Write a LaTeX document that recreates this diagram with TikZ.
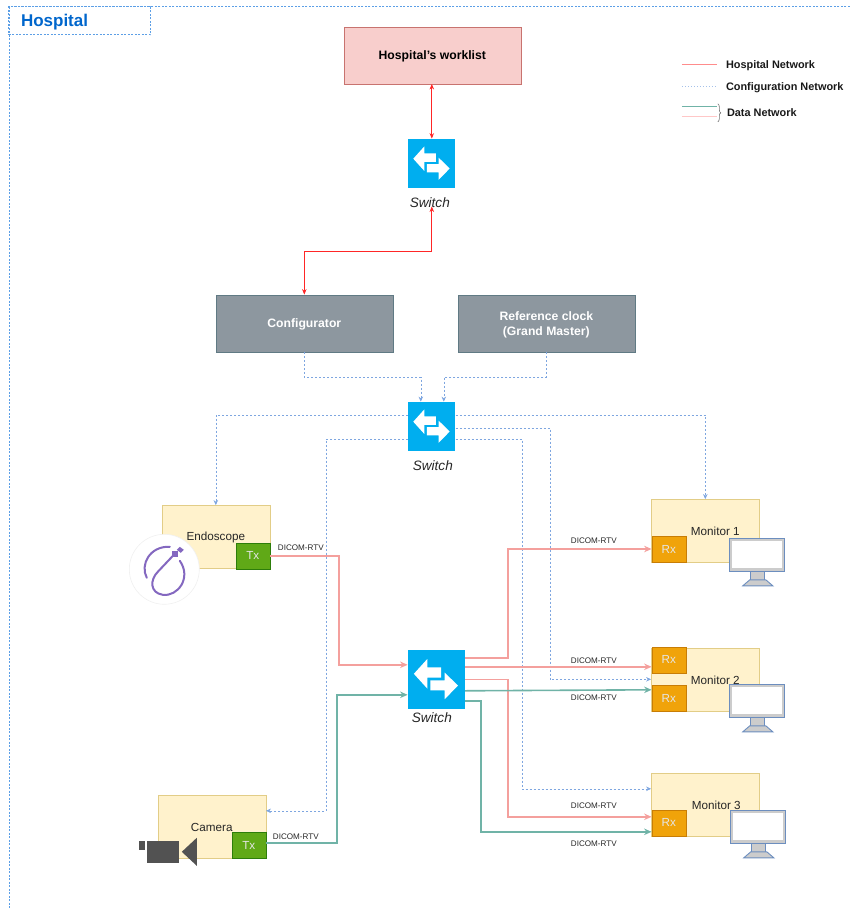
\documentclass[tikz,border=0pt]{standalone}
\usepackage{fontspec}
\setmainfont{Liberation Sans}
\usetikzlibrary{arrows.meta,decorations.pathreplacing}

\definecolor{hospblue}{HTML}{0066CC}
\definecolor{framecol}{HTML}{5C9FE6}
\definecolor{cfgblue}{HTML}{7EA6E0}
\definecolor{linkpink}{HTML}{F4A09D}
\definecolor{linkgreen}{HTML}{70B3A7}
\definecolor{swblue}{HTML}{00AEEF}
\definecolor{boxyellow}{HTML}{FFF2CC}
\definecolor{boxgray}{HTML}{8D979F}
\definecolor{screenblue}{HTML}{6C8EBF}
\definecolor{scopepurple}{HTML}{8468C0}

\tikzset{
  box/.style={draw,inner sep=0pt,font=\fontsize{11.7}{14}\selectfont,text=black!85},
  worklist/.style={box,fill={rgb,255:red,248;green,206;blue,204},draw={rgb,255:red,200;green,115;blue,111},minimum width=177pt,minimum height=57pt},
  graybox/.style={box,fill=boxgray,draw={rgb,255:red,96;green,122;blue,132},minimum width=177pt,minimum height=57pt},
  boxtext/.style={yshift=-1.5pt,align=center,font=\bfseries\fontsize{12.2}{15}\selectfont},
  device/.style={box,fill=boxyellow,draw={rgb,255:red,226;green,205;blue,135},minimum width=108pt,minimum height=63pt},
  devlabel/.style={yshift=-1pt,font=\fontsize{11.7}{14}\selectfont,text=black!85},
  txbox/.style={box,fill={rgb,255:red,96;green,169;blue,23},draw={rgb,255:red,45;green,125;blue,10},minimum width=34pt,minimum height=26pt,text=white!90!black},
  rxbox/.style={box,fill={rgb,255:red,240;green,163;blue,10},draw={rgb,255:red,200;green,125;blue,5},minimum width=34pt,minimum height=26pt,text=white!90!black},
  switchbox/.style={fill=swblue,inner sep=0pt},
  swlabel/.style={inner sep=0pt,font=\itshape\fontsize{13.6}{16}\selectfont,text=black!85},
  dicom/.style={inner sep=0pt,font=\fontsize{8.1}{10}\selectfont,text=black!85},
  legendtext/.style={anchor=west,inner sep=0pt,font=\bfseries\fontsize{10.9}{12}\selectfont,text=black!90},
  framedash/.style={framecol,line width=.7pt,dash pattern=on 2pt off 1.5pt},
  hosparrow/.style={red!85!white,line width=.8pt,{Stealth[length=5.5pt,width=4.5pt]}-{Stealth[length=5.5pt,width=4.5pt]}},
  cfgline/.style={cfgblue,line width=.6pt,dash pattern=on 2pt off 2pt,-{Stealth[length=5pt,width=4.5pt,fill=cfgblue]}},
  pinkline/.style={linkpink,line width=1.6pt,-{Stealth[length=7.5pt,width=6.5pt]}},
  greenline/.style={linkgreen,line width=1.6pt,-{Stealth[length=7.5pt,width=6.5pt]}},
}

\begin{document}
\begin{tikzpicture}[x=1pt,y=-1pt]
\useasboundingbox (.2,.2) rectangle (849.2,909.2);

\coordinate (framea) at (850,7);
\coordinate (frameb) at (10,7);
\coordinate (framec) at (10,910);
\draw[framedash] (framea) -- (frameb) -- (framec);
\node[draw=framecol,framedash,minimum width=142pt,minimum height=28pt,inner sep=0pt] (hospbox) at (80,21) {};
\node[anchor=west,inner sep=0pt,font=\bfseries\fontsize{17}{20}\selectfont,text=hospblue] (hosptitle) at (21,22) {Hospital};

\node[worklist,label={[boxtext,text=black]center:Hospital's worklist}] (worklist) at (432.5,55.5) {};
\node[graybox,label={[boxtext,text=white]center:Configurator}] (config) at (304.5,323.5) {};
\node[graybox,label={[boxtext,text=white]center:Reference clock\\(Grand Master)}] (clock) at (546.5,323.5) {};

\node[switchbox,minimum width=47pt,minimum height=49pt] (swa) at (432,163.5) {};
\node[switchbox,minimum width=47pt,minimum height=49pt] (swb) at (432,426.5) {};
\node[switchbox,minimum width=57pt,minimum height=59pt] (swc) at (436.5,679.5) {};
\node[swlabel] (swalabel) at (430,203) {Switch};
\node[swlabel] (swblabel) at (433,466) {Switch};
\node[swlabel] (swclabel) at (432,718) {Switch};

\foreach \sw/\w/\h in {swa/47/49,swb/47/49,swc/57/59}{
  \begin{scope}[shift={(\sw.north west)},x=\w pt,y=-\h pt]
    \fill[white] (.11,.41) -- (.345,.16) -- (.345,.30) -- (.59,.30) -- (.59,.476) -- (.345,.476) -- (.345,.66) -- cycle;
    \fill[white] (.885,.61) -- (.65,.39) -- (.65,.52) -- (.40,.52) -- (.40,.69) -- (.65,.69) -- (.65,.84) -- cycle;
  \end{scope}
}

\node[device,label={[devlabel]center:Endoscope}] (endo) at (216,537) {};
\node[txbox] (endotx) at (253,556) {Tx};
\node[device,label={[devlabel]center:Camera}] (camera) at (212,826.5) {};
\node[txbox] (cameratx) at (249,845.5) {Tx};
\node[device,label={[devlabel,xshift=10pt]center:Monitor 1}] (mona) at (705.5,531) {};
\node[rxbox] (monarx) at (669,549.5) {Rx};
\node[device,label={[devlabel,xshift=10pt]center:Monitor 2}] (monb) at (705.5,679.5) {};
\node[rxbox] (monbrxa) at (669,660) {Rx};
\node[rxbox] (monbrxb) at (669,698.5) {Rx};
\node[device,label={[devlabel,xshift=11pt]center:Monitor 3}] (monc) at (705.5,804.5) {};
\node[rxbox] (moncrx) at (669,823) {Rx};

\foreach \mx/\my in {730/539,730/685,731/811}{
  \begin{scope}[shift={(\mx,\my)}]
    \draw[screenblue,fill=black!20,line width=.9pt] (21,33) rectangle (35,45);
    \draw[screenblue,fill=black!20,line width=.9pt] (13,47) -- (20,41) -- (36,41) -- (43,47) -- cycle;
    \draw[screenblue,fill=black!20,line width=1.3pt] (0,0) rectangle (55,33);
    \fill[white] (2.5,2.5) rectangle (52.5,29);
  \end{scope}
}

\node[circle,draw=black!6,fill=white,line width=.6pt,minimum size=70pt,inner sep=0pt] (scopeicon) at (164.5,569.5) {};
\draw[scopepurple,line width=2pt,line cap=round] (147,578) .. controls (140,565) and (150,546) .. (170,547);
\draw[scopepurple,line width=2pt,line cap=round] (180,561) .. controls (192,578) and (178,597) .. (163,595) .. controls (150,593) and (150,580) .. (158,572);
\draw[scopepurple,line width=2pt] (158,572) -- (175,554);
\fill[scopepurple] (172,551) rectangle (178,557);
\fill[scopepurple] (180,547) -- (184,550) -- (181,553) -- (177,550) -- cycle;

\fill[black!68] (139,841) rectangle (145,850);
\fill[black!68] (147,841) rectangle (179,863);
\fill[black!68] (182,852) -- (197,838) -- (197,866) -- cycle;

\draw[hosparrow] ([xshift=-.5pt]worklist.south) -- (swa.north);
\draw[hosparrow] (config.north) |- (432,252) -- ([xshift=2pt,yshift=1.5pt]swalabel.south);

\draw[cfgline] (config.south) -- ++(0,25) -| ([xshift=-11pt]swb.north);
\draw[cfgline] (clock.south) -- ++(0,25) -| ([xshift=12pt]swb.north);
\draw[cfgline] ([yshift=11.5pt]swb.west) -| (endo.north);
\draw[cfgline] ([yshift=11.5pt]swb.east) -| (mona.north);
\draw[cfgline] ([yshift=-1.5pt]swb.east) -- (550,428) |- (monb.west);
\draw[cfgline] ([yshift=-12.5pt]swb.east) -- (522,439) |- ([yshift=15.5pt]monc.west);
\draw[cfgline] ([yshift=-12.5pt]swb.west) -- (326,439) |- ([yshift=15.5pt]camera.east);

\draw[pinkline] (endotx.east) -- (339,556) |- ([yshift=14.5pt]swc.west);
\draw[pinkline] ([yshift=21.5pt]swc.east) -- (508,658) |- ([yshift=.3pt]monarx.west);
\draw[pinkline] ([yshift=12.5pt]swc.east) -- ([yshift=-7pt]monbrxa.west);
\draw[pinkline] ([yshift=-.3pt]swc.east) -- (508,679.8) |- ([yshift=6pt]moncrx.west);
\draw[greenline] ([yshift=2.5pt]cameratx.east) -- (337,843) |- ([yshift=-15.5pt]swc.west);
\draw[greenline] ([yshift=-11.5pt]swc.east) -- ([yshift=8.5pt]monbrxb.west);
\draw[greenline] ([yshift=-21.5pt]swc.east) -- (481,701) |- ([yshift=-9pt]moncrx.west);

\node[dicom] (dicoma) at (301,548) {DICOM-RTV};
\node[dicom] (dicomb) at (296,837) {DICOM-RTV};
\node[dicom] (dicomc) at (594,541) {DICOM-RTV};
\node[dicom] (dicomd) at (594,661) {DICOM-RTV};
\node[dicom] (dicome) at (594,698) {DICOM-RTV};
\node[dicom] (dicomf) at (594,806) {DICOM-RTV};
\node[dicom] (dicomg) at (594,844) {DICOM-RTV};

\coordinate (lega) at (682,65);
\coordinate (legb) at (717,65);
\coordinate (legc) at (682,86);
\coordinate (legd) at (717,86);
\coordinate (lege) at (682,107);
\coordinate (legf) at (717,107);
\coordinate (legg) at (682,117);
\coordinate (legh) at (717,117);
\coordinate (legi) at (718,104);
\coordinate (legj) at (718,122);
\draw[red!45,line width=1.2pt] (lega) -- (legb);
\draw[cfgblue!70,line width=.5pt,dash pattern=on 1.5pt off 1.5pt] (legc) -- (legd);
\draw[linkgreen,line width=.7pt] (lege) -- (legf);
\draw[red!22,line width=.9pt] (legg) -- (legh);
\draw[black!55,line width=.6pt,decorate,decoration={brace,amplitude=3pt}] (legi) -- (legj);
\node[legendtext] (legnet) at (726,65.5) {Hospital Network};
\node[legendtext] (legcfg) at (726,87.5) {Configuration Network};
\node[legendtext] (legdata) at (727,113) {Data Network};
\end{tikzpicture}
\end{document}
